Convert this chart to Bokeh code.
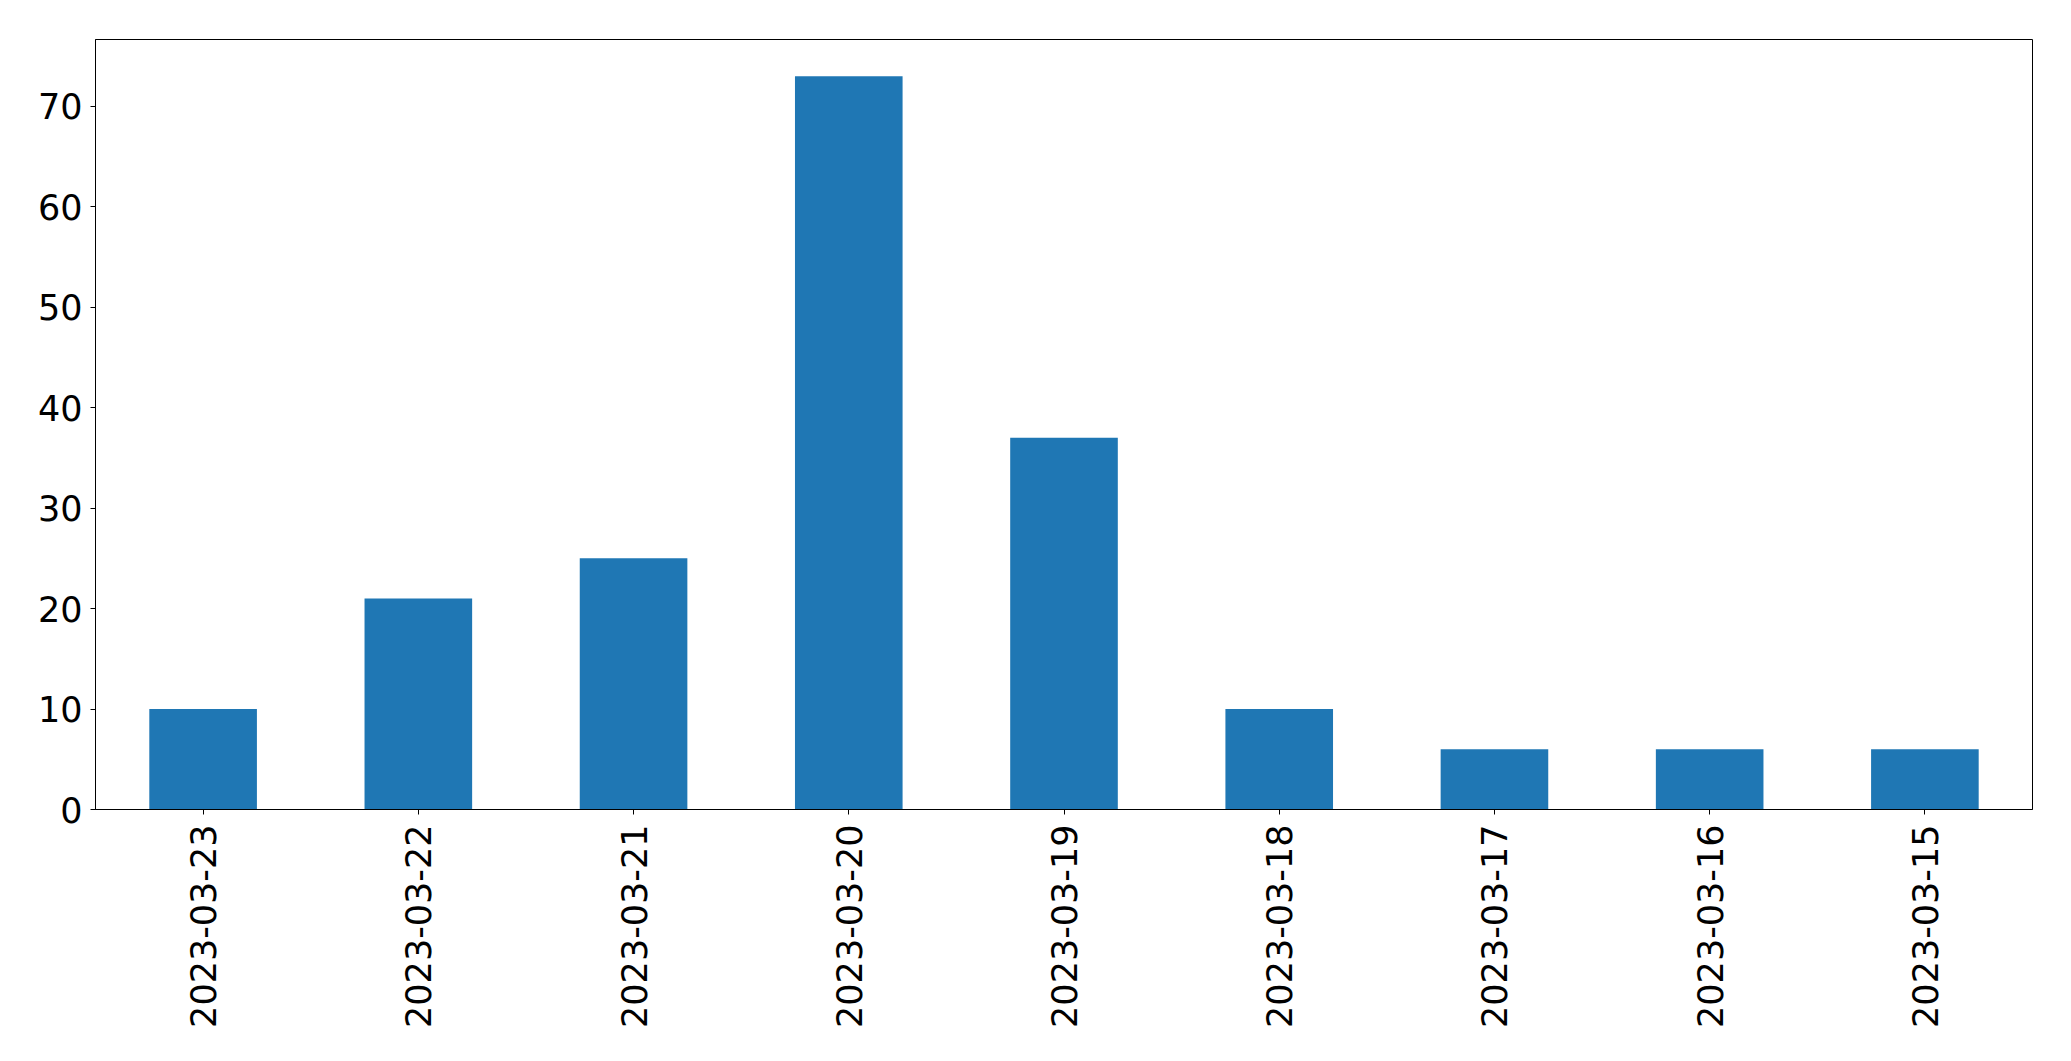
import math
from bokeh.plotting import figure
from bokeh.models import Range1d, FactorRange, FixedTicker, ColumnDataSource
from bokeh.embed import file_html
from bokeh.resources import INLINE

dates = ["2023-03-23", "2023-03-22", "2023-03-21", "2023-03-20", "2023-03-19",
         "2023-03-18", "2023-03-17", "2023-03-16", "2023-03-15"]
counts = [10, 21, 25, 73, 37, 10, 6, 6, 6]
y_ticks = [0, 10, 20, 30, 40, 50, 60, 70]

src = ColumnDataSource(dict(date=dates, count=counts))

p = figure(x_range=FactorRange(*dates, range_padding=0),
           y_range=Range1d(0, max(counts) * 1.05),
           frame_width=1937, frame_height=770,
           min_border_left=95, min_border_top=39, min_border_right=20, min_border_bottom=220,
           output_backend="svg", toolbar_location=None)

p.vbar(x="date", top="count", width=0.5, source=src, color="#1f77b4", line_color=None)

p.xgrid.visible = False
p.ygrid.visible = False
p.outline_line_color = "black"
p.outline_line_width = 1
p.outline_line_alpha = 1
p.background_fill_color = "white"
p.border_fill_color = "white"

p.yaxis.ticker = FixedTicker(ticks=y_ticks)
for ax in (p.xaxis[0], p.yaxis[0]):
    ax.axis_line_color = "black"
    ax.major_tick_line_color = "black"
    ax.major_tick_out = 5
    ax.major_tick_in = 0
    ax.minor_tick_line_color = None
    ax.major_label_text_font = "DejaVu Sans"
    ax.major_label_text_font_size = "35px"
    ax.major_label_text_color = "black"

p.yaxis.major_label_standoff = 8
p.xaxis.major_label_standoff = 10
p.xaxis.major_label_orientation = math.pi / 2

open("out.html", "w").write(file_html(p, INLINE))
